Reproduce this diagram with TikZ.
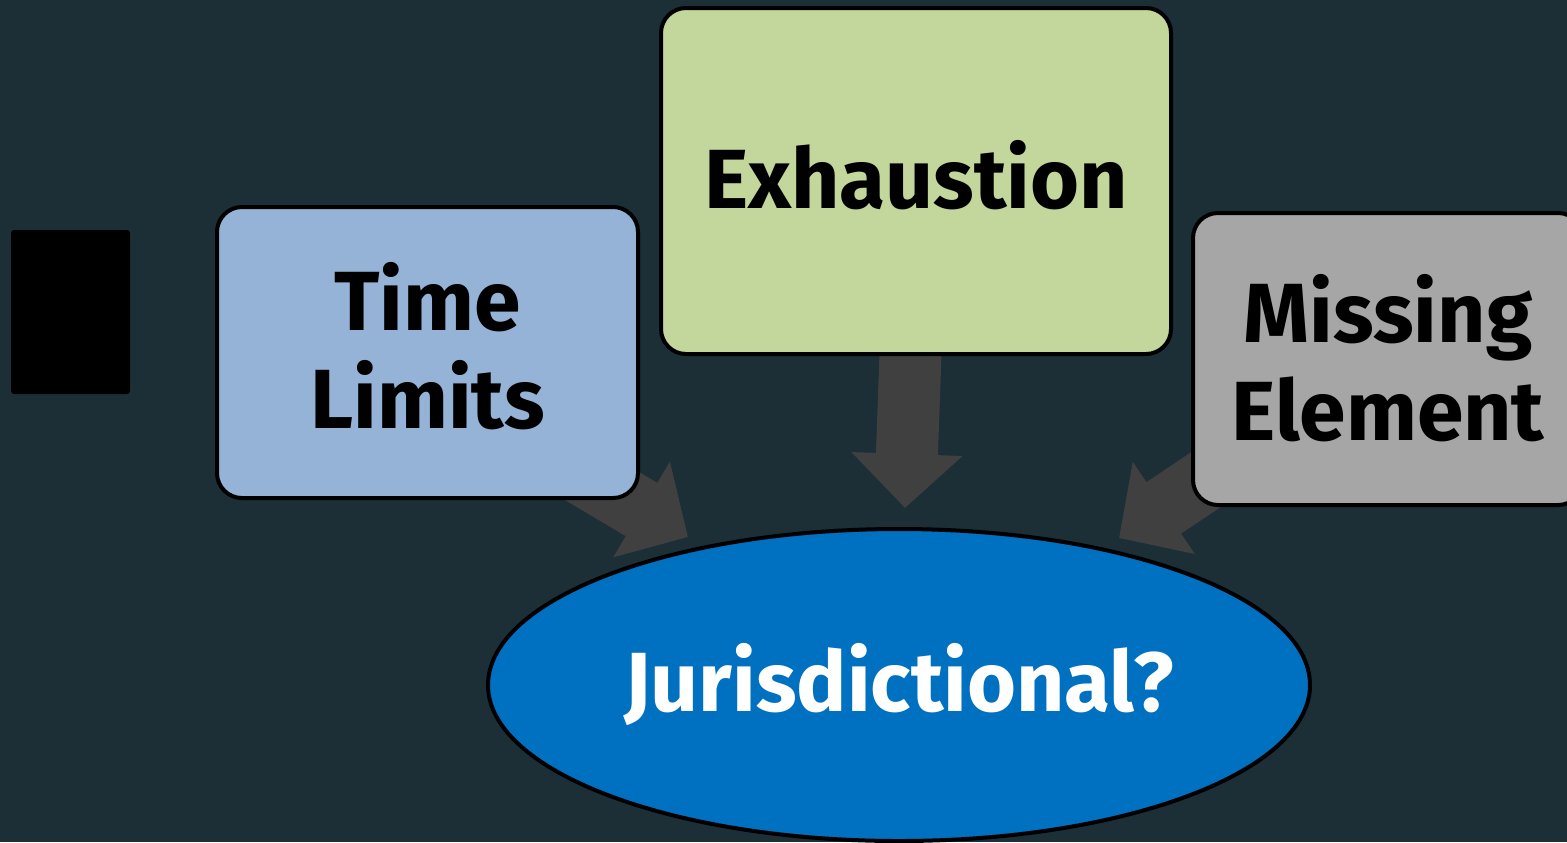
\documentclass[tikz,border=0pt]{standalone}
\usepackage{fontspec}
\setmainfont{Fira Sans}
\usetikzlibrary{arrows.meta,shapes.geometric}

\definecolor{bgteal}{RGB}{28,46,54}
\definecolor{arrowgrey}{RGB}{64,64,64}
\definecolor{timeblue}{RGB}{149,179,215}
\definecolor{exhgreen}{RGB}{195,214,155}
\definecolor{missgrey}{RGB}{166,166,166}
\definecolor{jurblue}{RGB}{0,112,192}

\tikzset{every picture/.style={line width=2pt}}
\tikzset{
  factorbox/.style={draw=black,line width=2pt,rounded corners=12.5pt,align=center,
    font=\fontsize{42}{49}\selectfont\bfseries,inner sep=0pt},
  fatarrow/.style={draw=arrowgrey,line width=31pt,
    -{Triangle[length=27pt,width=54pt,fill=arrowgrey]}}
}

\begin{document}
\begin{tikzpicture}[x=0.5pt,y=0.5pt,yscale=-1,xscale=1]
\useasboundingbox (0,0) rectangle (1567,842);
\clip (0,0) rectangle (1567,842);
\fill[bgteal] (0,0) rectangle (1567,842);

%Shape: Rectangle [blank]
\node (blank) [fill=black,rounded corners=1.5pt,minimum width=59.5pt,minimum height=82pt,inner sep=0pt] at (70.5,312) {};

%Arrow tails (under the boxes)
\coordinate (timeTail) at (575,470);
\coordinate (timeTip) at (688,537);
\coordinate (exhTail) at (911,340);
\coordinate (exhTip) at (905,508);
\coordinate (missTail) at (1235,460);
\coordinate (missTip) at (1119,538);

%Fat Arrows
\draw [fatarrow] (timeTail) -- (timeTip);
\draw [fatarrow] (exhTail) -- (exhTip);
\draw [fatarrow] (missTail) -- (missTip);

%Shape: Rounded Rectangle [time]
\node (time) [factorbox,fill=timeblue,minimum width=210.5pt,minimum height=145.5pt,text depth=7pt] at (427.5,352.5) {Time\\Limits};
%Shape: Rounded Rectangle [exh]
\node (exh) [factorbox,fill=exhgreen,minimum width=255pt,minimum height=173pt,text depth=7pt] at (916,181) {Exhaustion};
%Shape: Rounded Rectangle [miss]
\node (miss) [factorbox,fill=missgrey,minimum width=195pt,minimum height=146pt,text depth=2pt] at (1388,359) {Missing\\Element};

%Shape: Ellipse [jur]
\node (jur) [ellipse,draw=black,line width=2pt,fill=jurblue,minimum width=411pt,minimum height=156pt,inner sep=0pt,
  text=white,font=\fontsize{42}{49}\selectfont\bfseries] at (899,685) {Jurisdictional?};

\end{tikzpicture}
\end{document}
